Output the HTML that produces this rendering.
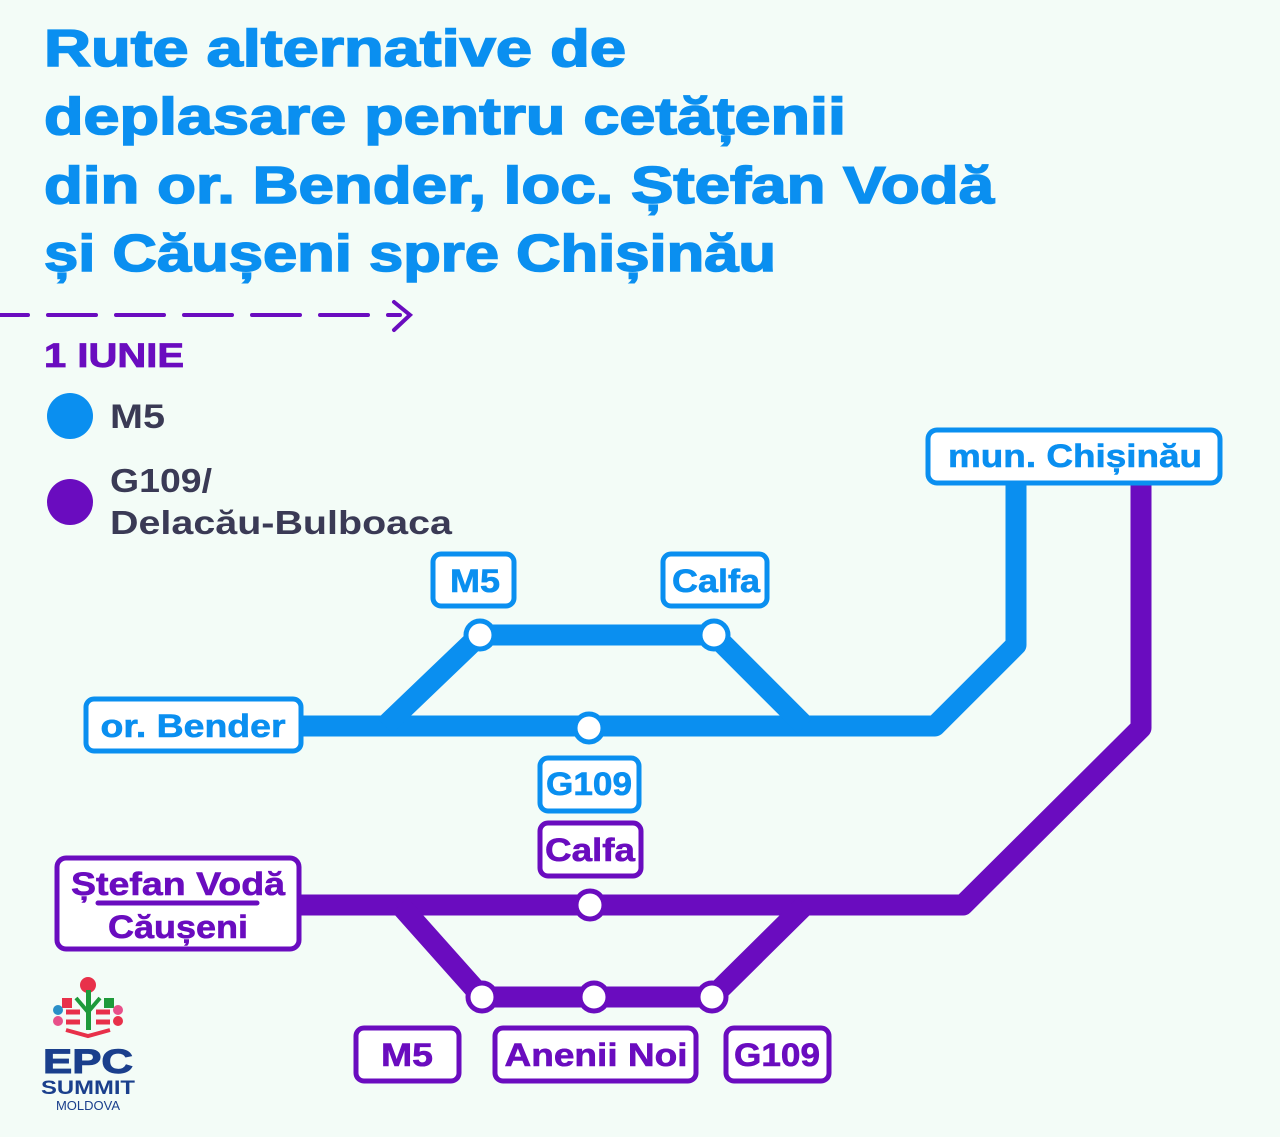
<!DOCTYPE html>
<html><head><meta charset="utf-8"><style>
html,body{margin:0;padding:0;background:#f3fcf7;}
svg{display:block;}
text{font-family:"Liberation Sans",sans-serif;font-weight:bold;}
</style></head><body>
<svg width="1280" height="1137" viewBox="0 0 1280 1137" xmlns="http://www.w3.org/2000/svg">
<rect width="1280" height="1137" fill="#f3fcf7"/>
<g fill="#0a8ff0" stroke="#0a8ff0" stroke-width="1.6" font-size="52">
<text x="44" y="66" textLength="582" lengthAdjust="spacingAndGlyphs">Rute alternative de</text>
<text x="44" y="134" textLength="802" lengthAdjust="spacingAndGlyphs">deplasare pentru cetățenii</text>
<text x="44" y="203" textLength="950" lengthAdjust="spacingAndGlyphs">din or. Bender, loc. Ștefan Vodă</text>
<text x="44" y="271" textLength="732" lengthAdjust="spacingAndGlyphs">și Căușeni spre Chișinău</text>
</g>
<g stroke="#6a0cbf" stroke-width="4" stroke-linecap="round" fill="none">
<line x1="0" y1="315" x2="400" y2="315" stroke-dasharray="48 20" stroke-dashoffset="20"/>
<polyline points="394,302 410,315 394,330"/>
</g>
<text x="44" y="367" font-size="34" fill="#6a0cbf" stroke="#6a0cbf" stroke-width="0.8" textLength="140" lengthAdjust="spacingAndGlyphs">1 IUNIE</text>
<circle cx="70" cy="416" r="23" fill="#0a8ff0"/>
<text x="110" y="428" font-size="34" fill="#3a3a55" textLength="55" lengthAdjust="spacingAndGlyphs">M5</text>
<circle cx="70" cy="502" r="23" fill="#6a0cbf"/>
<text x="110" y="492" font-size="33" fill="#3a3a55" textLength="102" lengthAdjust="spacingAndGlyphs">G109/</text>
<text x="110" y="534" font-size="33" fill="#3a3a55" textLength="342" lengthAdjust="spacingAndGlyphs">Delacău-Bulboaca</text>

<g stroke="#0a8ff0" stroke-width="21" fill="none" stroke-linejoin="round">
<polyline points="300,726 935,726 1016,645 1016,480"/>
<polyline points="385,726 480,635 714,635 805,726"/>
</g>
<g fill="#fff" stroke="#0a8ff0" stroke-width="5">
<circle cx="480" cy="635" r="14"/><circle cx="714" cy="635" r="14"/><circle cx="589" cy="728" r="14"/>
</g>
<g stroke="#6a0cbf" stroke-width="21" fill="none" stroke-linejoin="round">
<polyline points="300,905 963,905 1141,728 1141,480"/>
<polyline points="400,905 482,997 712,997 805,905"/>
</g>
<g fill="#fff" stroke="#6a0cbf" stroke-width="5">
<circle cx="590" cy="905" r="14"/><circle cx="482" cy="997" r="14"/><circle cx="594" cy="997" r="14"/><circle cx="712" cy="997" r="14"/>
</g>

<g fill="#fff" stroke="#0a8ff0" stroke-width="5">
<rect x="433" y="554" width="81" height="52" rx="8"/>
<rect x="663" y="554" width="104" height="52" rx="8"/>
<rect x="86" y="699" width="215" height="52" rx="8"/>
<rect x="540" y="758" width="99" height="53" rx="8"/>
<rect x="928" y="430" width="292" height="53" rx="9"/>
</g>
<g fill="#0a8ff0" stroke="#0a8ff0" stroke-width="0.6" font-size="32" text-anchor="middle">
<text x="475" y="592" textLength="50" lengthAdjust="spacingAndGlyphs">M5</text>
<text x="716" y="592" textLength="88" lengthAdjust="spacingAndGlyphs">Calfa</text>
<text x="193" y="737" textLength="185" lengthAdjust="spacingAndGlyphs">or. Bender</text>
<text x="589" y="795" textLength="86" lengthAdjust="spacingAndGlyphs">G109</text>
<text x="1075" y="467" textLength="254" lengthAdjust="spacingAndGlyphs">mun. Chișinău</text>
</g>
<g fill="#fff" stroke="#6a0cbf" stroke-width="5">
<rect x="540" y="823" width="101" height="53" rx="8"/>
<rect x="57" y="858" width="242" height="91" rx="9"/>
<rect x="356" y="1028" width="103" height="53" rx="8"/>
<rect x="495" y="1028" width="201" height="53" rx="8"/>
<rect x="726" y="1028" width="103" height="53" rx="8"/>
</g>
<line x1="98" y1="903" x2="257" y2="903" stroke="#6a0cbf" stroke-width="5" stroke-linecap="round"/>
<g fill="#6a0cbf" stroke="#6a0cbf" stroke-width="0.6" font-size="32" text-anchor="middle">
<text x="590" y="861" textLength="90" lengthAdjust="spacingAndGlyphs">Calfa</text>
<text x="178" y="895" textLength="214" lengthAdjust="spacingAndGlyphs">Ștefan Vodă</text>
<text x="178" y="938" textLength="140" lengthAdjust="spacingAndGlyphs">Căușeni</text>
<text x="407" y="1066" textLength="52" lengthAdjust="spacingAndGlyphs">M5</text>
<text x="596" y="1066" textLength="183" lengthAdjust="spacingAndGlyphs">Anenii Noi</text>
<text x="777" y="1066" textLength="86" lengthAdjust="spacingAndGlyphs">G109</text>
</g>

<g>
<circle cx="88" cy="985" r="8" fill="#e8304a"/>
<rect x="86" y="990" width="5" height="40" fill="#1e9a3a"/>
<path d="M76 998 L88 1012 L100 998" stroke="#1e9a3a" stroke-width="4" fill="none"/>
<rect x="62" y="998" width="10" height="10" fill="#e8304a"/>
<rect x="104" y="998" width="10" height="10" fill="#1e9a3a"/>
<circle cx="58" cy="1010" r="5" fill="#2a8fc8"/><circle cx="118" cy="1010" r="5" fill="#e8508a"/>
<circle cx="58" cy="1021" r="5" fill="#e8508a"/><circle cx="118" cy="1021" r="5" fill="#e8304a"/>
<path d="M66 1012 h14 M96 1012 h14 M66 1022 h14 M96 1022 h14" stroke="#e8304a" stroke-width="5"/>
<path d="M66 1030 L88 1036 L110 1030" stroke="#e8304a" stroke-width="4" fill="none"/>
</g>
<text x="88" y="1073" font-size="34" fill="#1a3f8c" stroke="#1a3f8c" stroke-width="1" text-anchor="middle" textLength="90" lengthAdjust="spacingAndGlyphs">EPC</text>
<text x="88" y="1094" font-size="19" fill="#1a3f8c" text-anchor="middle" textLength="94" lengthAdjust="spacingAndGlyphs">SUMMIT</text>
<text x="88" y="1110" font-size="13" fill="#1a3f8c" text-anchor="middle" style="font-weight:normal">MOLDOVA</text>
</svg>
</body></html>
